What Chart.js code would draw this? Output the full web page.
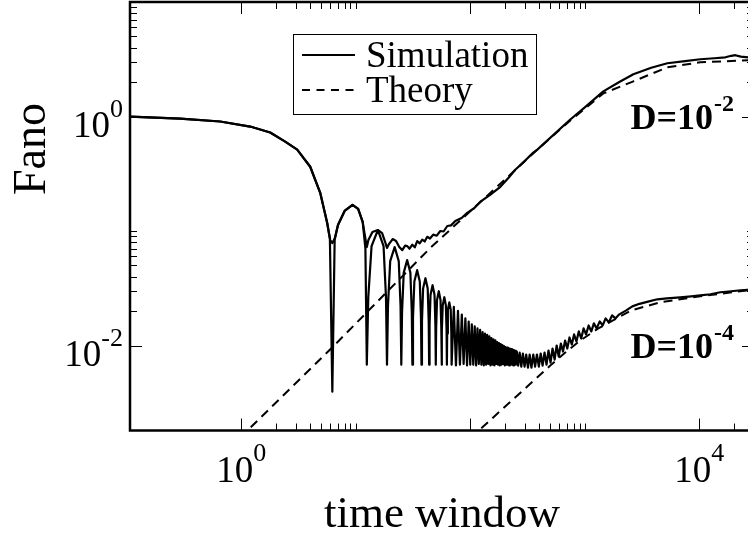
<!DOCTYPE html>
<html>
<head>
<meta charset="utf-8">
<script src="https://cdn.jsdelivr.net/npm/chart.js@4.4.1/dist/chart.umd.min.js"></script>
<style>
html,body{margin:0;padding:0;background:#fff;overflow:hidden;}
#wrap{width:756px;height:535px;}
</style>
</head>
<body>
<div id="wrap"><canvas id="c" width="756" height="535" style="width:756px;height:535px"></canvas></div>
<script>
// ---------- data (time window T, Fano factor F) ----------
const simHighT = [0.1,0.2933,0.6556,1.198,1.792,2.423,3.084,4.006,4.898,5.637,5.99,6.25,6.6,7.0,8.0,9.375,10.5,11.5,12.2,12.5,12.9,14,15.6,17,18.2,18.75,19.5,21,22.5,24,25.5,27,28.2,29.5,31.2,32.8,34.4,36.2,38.1,40,42.1,44.5,47.5,51,54.7,58.5,63,68,74,84,94,108,122,150,183,215,247,300,355,385,747,1000,1451,2000,2655,3800,5259,7500,10200,13500,16870,19000,20630,23000,26790,30000];
const simHighF = [1.0,0.96,0.904,0.817,0.724,0.6035,0.5135,0.3641,0.2155,0.1175,0.0834,0.0784,0.0868,0.1129,0.1497,0.169,0.156,0.120,0.0834,0.0724,0.0834,0.098,0.102,0.096,0.0784,0.071,0.0769,0.0851,0.0817,0.0724,0.0681,0.0745,0.0738,0.0700,0.0760,0.0720,0.0817,0.0780,0.0840,0.0810,0.0890,0.0860,0.0930,0.0910,0.1000,0.0990,0.1106,0.1120,0.1224,0.1300,0.1438,0.1580,0.1796,0.2080,0.2432,0.2900,0.3428,0.4100,0.4833,0.5135,0.9412,1.2,1.657,2.0,2.336,2.663,2.917,3.04,3.162,3.225,3.29,3.39,3.43,3.33,3.29,3.29];

const simLowT = [0.1,0.2933,0.6556,1.198,1.792,2.423,3.084,4.006,4.898,5.637,5.95,6.25,6.55,7.0,8.0,9.375,10.5,11.5,12.15,12.5,12.875,13.75,15.625,17.5,18.375,18.75,19.125,20.0,21.875,23.75,24.625,25.0,25.375,26.25,28.125,30.0,30.875,31.25,31.625,32.5,34.375,36.25,37.125,37.5,37.875,38.75,40.625,42.5,43.375,43.75,44.125,45.0,46.875,48.75,49.625,50.0,50.375,51.25,53.125,55.0,55.875,56.25,56.625,57.5,59.375,61.25,62.125,62.5,62.875,63.75,65.625,67.5,68.375,68.75,71.875,75,78.125,81.25,84.375,87.5,90.625,93.75,96.875,100,103.125,106.25,109.375,112.5,115.625,118.75,121.875,125,128.125,131.25,134.375,137.5,140.625,143.75,146.875,150,153.125,156.25,159.375,162.5,165.625,168.75,171.875,175,178.125,181.25,184.375,187.5,190.625,193.75,196.875,200,203.125,206.25,209.375,212.5,215.625,218.75,221.875,225,228.125,231.25,234.375,237.5,240.625,243.75,246.875,250,255,262,270,279,288,298,308,319,330,342,355,368,382,397,412,428,445,463,482,502,523,545,568,592,618,645,673,703,735,770,806,845,886,930,976,1025,1080,1140,1200,1270,1350,1430,1520,1620,1730,1850,2000,2300,2600,3000,3500,4300,5200,6800,8500,10200,12500,15250,19000,23000,30000];
const simLowF = [1.0,0.96,0.904,0.817,0.724,0.6035,0.5135,0.3641,0.2155,0.1175,0.085,0.00395,0.085,0.1129,0.1497,0.169,0.156,0.120,0.070,0.0068,0.0264,0.0738,0.102,0.0738,0.0264,0.0068,0.0222,0.0546,0.0724,0.0546,0.0222,0.0068,0.0195,0.0433,0.0557,0.0433,0.0195,0.0068,0.0176,0.0362,0.0455,0.0362,0.0176,0.0068,0.0162,0.0314,0.0387,0.0314,0.0162,0.0068,0.0151,0.0277,0.0336,0.0277,0.0151,0.0068,0.0142,0.0249,0.0298,0.0249,0.0142,0.0068,0.0134,0.0224,0.0264,0.0224,0.0134,0.0068,0.0127,0.0205,0.0238,0.0205,0.0127,0.0068,0.0218,0.0067,0.0201,0.0068,0.0186,0.0069,0.0173,0.0067,0.0162,0.0068,0.0153,0.0068,0.0147,0.0067,0.0141,0.0069,0.0137,0.0068,0.0131,0.0067,0.0127,0.0068,0.0124,0.0069,0.0120,0.0067,0.0116,0.0068,0.0113,0.0067,0.0111,0.0069,0.0107,0.0068,0.0105,0.0067,0.0103,0.0068,0.0101,0.0069,0.0099,0.0067,0.0097,0.0068,0.0096,0.0068,0.0095,0.0067,0.0094,0.0069,0.0093,0.0068,0.0092,0.0067,0.0091,0.0068,0.0090,0.0068,0.00886,0.00668,0.00868,0.00654,0.00851,0.00654,0.00834,0.00641,0.00834,0.00641,0.00834,0.00654,0.00834,0.00654,0.00851,0.00668,0.00868,0.00681,0.00904,0.00710,0.00941,0.00754,0.01000,0.00801,0.01041,0.00886,0.01106,0.00941,0.01175,0.01020,0.01249,0.01084,0.01327,0.01151,0.01410,0.01249,0.01497,0.01327,0.01560,0.01410,0.01624,0.01497,0.01725,0.01591,0.01833,0.01725,0.01871,0.02028,0.02198,0.02312,0.02407,0.02532,0.02584,0.02636,0.02690,0.02745,0.02802,0.02917,0.02977,0.03038,0.03098];

const theoryHighT = [0.98,1.128,6.23,44.7,182.8,384.7,747,1451,2655,5259,10200,26790,30000];
const theoryHighF = [0.00156,0.0018,0.00961,0.0710,0.2584,0.5135,0.9224,1.591,2.028,2.691,2.977,3.098,3.10];

const theoryLowT = [100,115.1,499.7,675.5,913.5,1312,2546,4565,10200,26790,30000];
const theoryLowF = [0.001544,0.00176,0.00668,0.00868,0.01106,0.01410,0.02028,0.02383,0.02690,0.03038,0.0307];

const seriesNames = ['Simulation', 'Theory'];
const curveNames = ['D=10', 'D=10'];
const curveExps = ['-2', '-4'];
const curveAnchorT = [2500, 2500];
const curveAnchorF = [0.785, 0.00773];

const xMajorTicks = [1, 100, 10000];
const xMinorTicks = [2,3,4,5,6,7,8,9,10,200,300,400,500,600,700,800,900,1000,20000];
const yMajorTicks = [0.01, 1];
const yMinorTicks = [0.02,0.03,0.04,0.05,0.06,0.07,0.08,0.09,0.1,2,3,4,5,6,7,8,9];
const xLabelValues = [1, 10000];
const xLabelExps = ['0', '4'];
const yLabelValues = [0.01, 1];
const yLabelExps = ['-2', '0'];
const xTitle = 'time window';
const yTitle = 'Fano';

// ---------- chart ----------
const zip = (a, b) => a.map((v, i) => ({x: v, y: b[i]}));
const SERIF = '"Liberation Serif", "Times New Roman", serif';

function lineDs(t, f, dash, w) {
  return {
    data: zip(t, f), showLine: true, borderColor: '#000', backgroundColor: '#000',
    borderWidth: w, pointRadius: 0, pointHoverRadius: 0, fill: false, tension: 0,
    borderDash: dash, clip: 0
  };
}

const framePlugin = {
  id: 'frame',
  afterDatasetsDraw(chart) {
    const {ctx, chartArea: a, scales: {x, y}} = chart;
    ctx.save();
    const seg = (x1, y1, x2, y2) => { ctx.beginPath(); ctx.moveTo(x1, y1); ctx.lineTo(x2, y2); ctx.stroke(); };
    // ticks (inward, all four sides)
    ctx.strokeStyle = '#000'; ctx.lineWidth = 1; ctx.setLineDash([]);
    const xTick = (v, len) => {
      const p = Math.round(x.getPixelForValue(v)) + 0.5;
      if (p <= a.left + 1 || p >= a.right - 1) return;
      seg(p, a.bottom, p, a.bottom - len); seg(p, a.top, p, a.top + len);
    };
    const yTick = (v, len) => {
      const p = Math.round(y.getPixelForValue(v)) + 0.5;
      if (p <= a.top + 1 || p >= a.bottom - 1) return;
      seg(a.left, p, a.left + len, p); seg(a.right, p, a.right - len, p);
    };
    xMajorTicks.forEach(v => xTick(v, 12)); xMinorTicks.forEach(v => xTick(v, 7));
    yMajorTicks.forEach(v => yTick(v, 12)); yMinorTicks.forEach(v => yTick(v, 7));
    // frame
    ctx.lineWidth = 2.5;
    ctx.strokeRect(a.left, a.top, a.right - a.left, a.bottom - a.top);

    ctx.fillStyle = '#000';
    ctx.textBaseline = 'alphabetic';
    const baseFont = '37px ' + SERIF, supFont = '26px ' + SERIF;
    // y tick labels
    yLabelValues.forEach((v, i) => {
      const py = y.getPixelForValue(v);
      const right = a.left - 7;
      ctx.font = supFont; ctx.textAlign = 'right';
      const sw = ctx.measureText(yLabelExps[i]).width;
      ctx.fillText(yLabelExps[i], right, py);
      ctx.font = baseFont;
      ctx.fillText('10', right - sw, py + 20);
    });
    // x tick labels
    xLabelValues.forEach((v, i) => {
      const px = x.getPixelForValue(v);
      ctx.font = baseFont; const bw = ctx.measureText('10').width;
      ctx.font = supFont; const sw = ctx.measureText(xLabelExps[i]).width;
      const start = px - (bw + sw) / 2;
      ctx.textAlign = 'left';
      ctx.font = baseFont; ctx.fillText('10', start, a.bottom + 51);
      ctx.font = supFont; ctx.fillText(xLabelExps[i], start + bw, a.bottom + 30);
    });
    // axis titles
    ctx.font = '45px ' + SERIF; ctx.textAlign = 'center';
    ctx.fillText(xTitle, (a.left + a.right) / 2, 527);
    ctx.save();
    ctx.translate(45, 149); ctx.rotate(-Math.PI / 2);
    ctx.font = '46px ' + SERIF; ctx.textAlign = 'center';
    ctx.fillText(yTitle, 0, 0);
    ctx.restore();

    // legend
    ctx.lineWidth = 1;
    ctx.strokeRect(293.5, 34.5, 243, 80);
    ctx.lineWidth = 2;
    ctx.setLineDash([]); seg(302, 55, 355, 55);
    ctx.setLineDash([8, 6.5]); seg(302, 90, 355, 90);
    ctx.setLineDash([]);
    ctx.font = '37px ' + SERIF; ctx.textAlign = 'left';
    ctx.fillText(seriesNames[0], 366, 66.5);
    ctx.fillText(seriesNames[1], 366, 101.5);

    // curve annotations
    curveNames.forEach((n, i) => {
      const px = x.getPixelForValue(curveAnchorT[i]);
      const py = y.getPixelForValue(curveAnchorF[i]);
      ctx.font = 'bold 36px ' + SERIF; ctx.textAlign = 'left';
      ctx.fillText(n, px, py);
      const w = ctx.measureText(n).width;
      ctx.font = 'bold 24px ' + SERIF;
      ctx.fillText(curveExps[i], px + w + 1, py - 18);
    });
    ctx.restore();
  }
};

new Chart(document.getElementById('c'), {
  type: 'scatter',
  data: {
    datasets: [
      lineDs(theoryHighT, theoryHighF, [9, 6], 2),
      lineDs(theoryLowT, theoryLowF, [9, 6], 2),
      lineDs(simHighT, simHighF, [], 2.2),
      lineDs(simLowT, simLowF, [], 2.2)
    ]
  },
  options: {
    responsive: false,
    animation: false,
    devicePixelRatio: 1,
    layout: {padding: {left: 130, top: 2, right: 2, bottom: 104.5}},
    scales: {
      x: {type: 'logarithmic', min: 0.107, max: 30000, display: false},
      y: {type: 'logarithmic', min: 0.00181, max: 10, display: false}
    },
    plugins: {legend: {display: false}, tooltip: {enabled: false}},
    elements: {line: {borderJoinStyle: 'round'}}
  },
  plugins: [framePlugin]
});
</script>
</body>
</html>
